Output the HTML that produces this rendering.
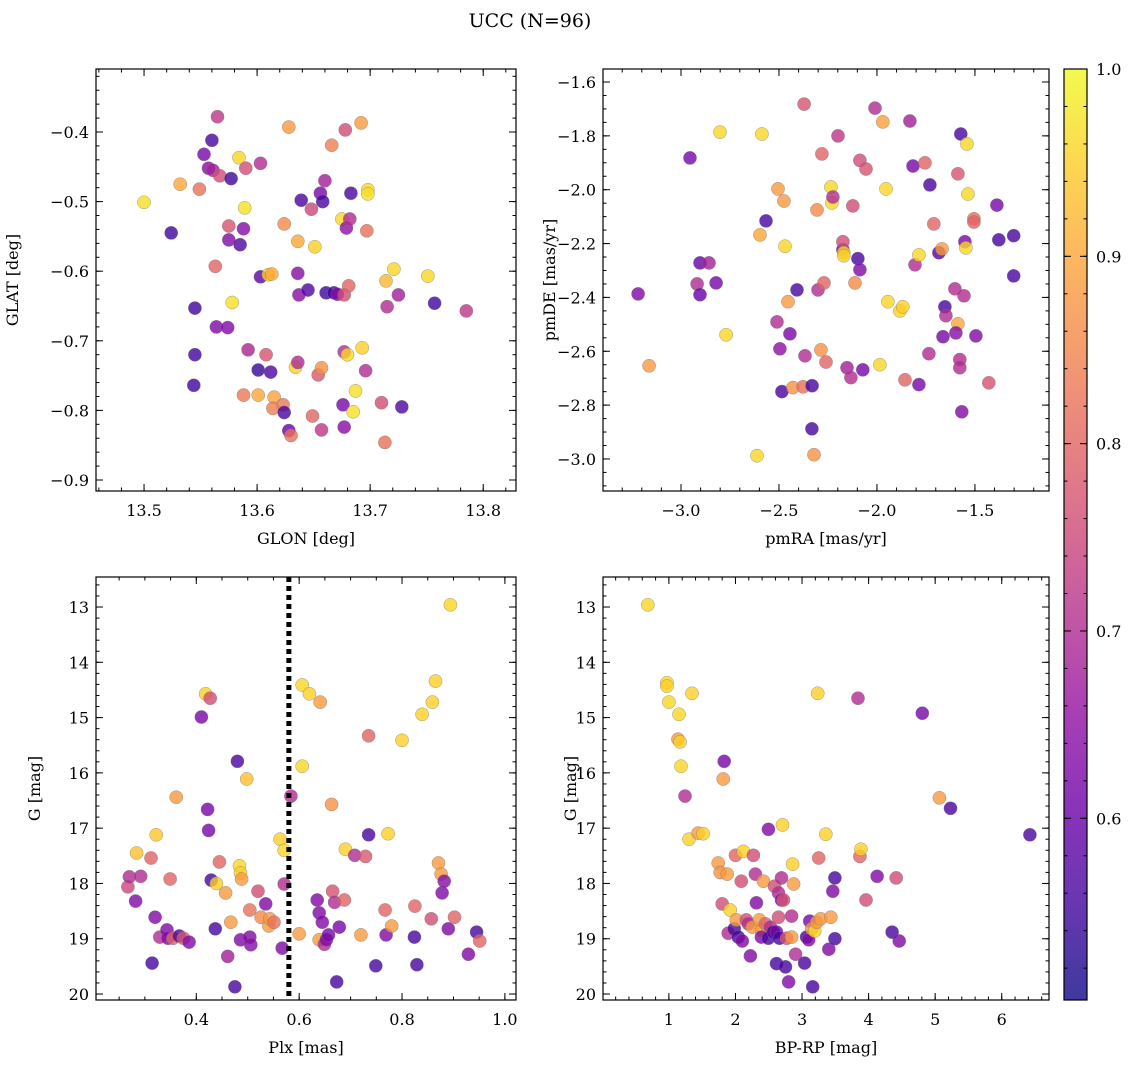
<!DOCTYPE html>
<html><head><meta charset="utf-8">
<style>
html,body{margin:0;padding:0;background:#fff;}
svg{display:block;font-family:"DejaVu Serif","Liberation Serif",serif;}
</style></head>
<body>
<svg id="fig" width="1136" height="1068" viewBox="0 0 1136 1068" xmlns="http://www.w3.org/2000/svg">
<text x="530" y="27" font-size="19" text-anchor="middle">UCC (N=96)</text>
</svg>
<script>
// ---- Panel 1: GLON vs GLAT ----
const p1_glon=[13.500,13.524,13.532,13.549,13.545,13.544,13.545,13.553,13.557,13.560,13.561,13.565,13.567,13.577,13.563,13.564,13.574,13.575,13.575,13.578,13.584,13.585,13.588,13.589,13.590,13.592,13.588,13.601,13.603,13.603,13.608,13.601,13.612,13.610,13.613,13.615,13.614,13.623,13.624,13.628,13.630,13.624,13.628,13.634,13.636,13.636,13.636,13.637,13.639,13.645,13.648,13.649,13.651,13.654,13.657,13.656,13.658,13.660,13.657,13.661,13.668,13.666,13.671,13.675,13.679,13.677,13.677,13.681,13.680,13.682,13.683,13.678,13.676,13.677,13.685,13.687,13.692,13.693,13.696,13.697,13.698,13.698,13.710,13.713,13.714,13.715,13.721,13.725,13.728,13.751,13.757,13.785];
const p1_glat=[-0.501,-0.545,-0.475,-0.482,-0.720,-0.764,-0.653,-0.432,-0.452,-0.412,-0.455,-0.378,-0.463,-0.467,-0.593,-0.680,-0.681,-0.555,-0.535,-0.645,-0.437,-0.562,-0.539,-0.509,-0.452,-0.713,-0.778,-0.778,-0.445,-0.608,-0.720,-0.742,-0.745,-0.605,-0.604,-0.781,-0.797,-0.792,-0.803,-0.829,-0.836,-0.532,-0.393,-0.738,-0.731,-0.603,-0.557,-0.634,-0.498,-0.627,-0.511,-0.808,-0.565,-0.749,-0.739,-0.488,-0.500,-0.470,-0.828,-0.631,-0.631,-0.419,-0.633,-0.525,-0.538,-0.634,-0.716,-0.621,-0.720,-0.525,-0.488,-0.397,-0.792,-0.824,-0.802,-0.772,-0.387,-0.710,-0.743,-0.542,-0.483,-0.489,-0.789,-0.846,-0.614,-0.651,-0.597,-0.634,-0.795,-0.607,-0.646,-0.657];
const p1_prob=[0.97,0.55,0.9,0.82,0.55,0.55,0.55,0.62,0.64,0.56,0.68,0.72,0.76,0.55,0.8,0.63,0.63,0.63,0.77,0.97,0.96,0.57,0.64,0.97,0.76,0.69,0.83,0.9,0.7,0.58,0.77,0.54,0.57,0.95,0.9,0.89,0.84,0.83,0.56,0.6,0.82,0.86,0.88,0.95,0.7,0.64,0.9,0.64,0.56,0.57,0.75,0.8,0.95,0.78,0.87,0.62,0.56,0.68,0.72,0.55,0.55,0.84,0.63,0.96,0.65,0.76,0.7,0.8,0.96,0.7,0.56,0.76,0.62,0.64,0.97,0.97,0.88,0.95,0.7,0.82,0.96,0.97,0.76,0.82,0.92,0.7,0.96,0.68,0.57,0.96,0.55,0.72];
// ---- Panel 2: pmRA vs pmDE ----
const p2_pmra=[-3.219,-3.163,-2.954,-2.918,-2.903,-2.903,-2.821,-2.857,-2.801,-2.770,-2.587,-2.612,-2.597,-2.566,-2.505,-2.510,-2.495,-2.475,-2.469,-2.485,-2.444,-2.454,-2.429,-2.408,-2.372,-2.367,-2.377,-2.332,-2.331,-2.321,-2.306,-2.301,-2.286,-2.281,-2.270,-2.260,-2.235,-2.230,-2.225,-2.199,-2.174,-2.174,-2.169,-2.169,-2.153,-2.133,-2.123,-2.112,-2.097,-2.087,-2.087,-2.056,-2.072,-2.010,-1.985,-1.970,-1.954,-1.944,-1.883,-1.868,-1.857,-1.832,-1.816,-1.806,-1.786,-1.786,-1.755,-1.735,-1.730,-1.710,-1.684,-1.668,-1.663,-1.653,-1.648,-1.587,-1.602,-1.597,-1.587,-1.577,-1.577,-1.572,-1.567,-1.556,-1.551,-1.546,-1.541,-1.536,-1.505,-1.505,-1.495,-1.429,-1.388,-1.378,-1.302,-1.302];
const p2_pmde=[-2.387,-2.654,-1.882,-2.350,-2.272,-2.390,-2.346,-2.272,-1.786,-2.539,-1.793,-2.988,-2.168,-2.116,-1.997,-2.491,-2.591,-2.042,-2.210,-2.750,-2.535,-2.416,-2.735,-2.372,-1.682,-2.617,-2.732,-2.888,-2.728,-2.984,-2.075,-2.372,-2.595,-1.867,-2.346,-2.640,-1.990,-2.049,-2.027,-1.800,-2.223,-2.193,-2.234,-2.245,-2.661,-2.698,-2.060,-2.346,-2.256,-2.297,-1.891,-1.923,-2.669,-1.697,-2.650,-1.748,-1.997,-2.416,-2.450,-2.435,-2.706,-1.745,-1.912,-2.279,-2.242,-2.724,-1.900,-2.609,-1.982,-2.127,-2.234,-2.220,-2.546,-2.435,-2.468,-2.498,-2.368,-2.532,-1.941,-2.661,-2.631,-1.793,-2.825,-2.394,-2.193,-2.216,-1.830,-2.016,-2.108,-2.120,-2.543,-2.717,-2.057,-2.186,-2.171,-2.320];
const p2_prob=[0.63,0.88,0.62,0.7,0.6,0.6,0.62,0.68,0.96,0.96,0.96,0.96,0.9,0.56,0.88,0.7,0.65,0.88,0.96,0.56,0.62,0.88,0.87,0.56,0.77,0.7,0.82,0.56,0.56,0.87,0.86,0.7,0.87,0.8,0.8,0.8,0.96,0.96,0.7,0.72,0.62,0.76,0.96,0.95,0.68,0.7,0.76,0.86,0.56,0.63,0.76,0.77,0.62,0.7,0.96,0.89,0.96,0.96,0.95,0.95,0.8,0.68,0.62,0.7,0.96,0.62,0.8,0.7,0.56,0.8,0.57,0.88,0.62,0.56,0.7,0.9,0.7,0.64,0.77,0.7,0.7,0.56,0.63,0.7,0.62,0.96,0.96,0.96,0.82,0.8,0.63,0.77,0.62,0.56,0.56,0.56];
// ---- Panel 3: Plx vs G ----
const p3_plx=[0.267,0.270,0.282,0.284,0.292,0.312,0.314,0.320,0.322,0.329,0.343,0.345,0.349,0.355,0.361,0.367,0.375,0.386,0.410,0.418,0.427,0.422,0.424,0.429,0.437,0.439,0.445,0.457,0.461,0.467,0.475,0.480,0.484,0.486,0.488,0.486,0.498,0.504,0.504,0.506,0.520,0.526,0.535,0.541,0.543,0.551,0.563,0.567,0.571,0.571,0.584,0.600,0.606,0.606,0.620,0.635,0.639,0.641,0.639,0.645,0.649,0.653,0.657,0.663,0.665,0.669,0.673,0.678,0.688,0.690,0.708,0.720,0.729,0.735,0.735,0.749,0.767,0.769,0.773,0.780,0.800,0.824,0.825,0.829,0.839,0.857,0.859,0.865,0.871,0.876,0.878,0.882,0.890,0.894,0.902,0.929,0.945,0.951];
const p3_g=[18.06,17.88,18.32,17.45,17.87,17.54,19.44,18.61,17.12,18.97,18.84,18.99,17.92,18.99,16.44,18.95,18.99,19.06,14.99,14.57,14.65,16.66,17.04,17.94,18.82,18.00,17.61,18.17,19.32,18.70,19.87,15.79,17.68,17.81,17.92,19.02,16.11,18.97,18.48,19.11,18.14,18.61,18.37,18.77,18.64,18.70,17.20,19.17,18.01,17.40,16.42,18.91,14.41,15.88,14.57,18.30,18.53,14.72,19.02,18.70,19.10,19.02,18.93,16.57,18.14,18.34,19.78,18.79,18.30,17.38,17.49,18.93,17.51,15.33,17.12,19.49,18.48,18.93,17.10,18.77,15.41,18.97,18.41,19.47,14.94,18.64,14.72,14.34,17.63,17.83,18.17,17.96,18.82,12.96,18.61,19.28,18.88,19.04];
const p3_prob=[0.75,0.7,0.63,0.93,0.7,0.8,0.56,0.63,0.94,0.7,0.63,0.63,0.8,0.8,0.88,0.56,0.78,0.63,0.62,0.95,0.76,0.62,0.62,0.56,0.56,0.95,0.8,0.88,0.68,0.88,0.56,0.56,0.96,0.95,0.88,0.63,0.93,0.63,0.82,0.64,0.76,0.86,0.63,0.88,0.88,0.82,0.95,0.63,0.7,0.96,0.7,0.88,0.96,0.96,0.95,0.63,0.63,0.88,0.88,0.63,0.7,0.64,0.62,0.87,0.77,0.7,0.56,0.62,0.8,0.95,0.7,0.88,0.78,0.8,0.56,0.56,0.8,0.63,0.95,0.88,0.95,0.56,0.8,0.56,0.95,0.76,0.95,0.95,0.88,0.88,0.63,0.64,0.63,0.96,0.8,0.63,0.56,0.8];
const plxCut=0.58;
// ---- Panel 4: BP-RP vs G ----
const p4_bprp=[0.683,0.970,1.0,0.97,1.136,1.151,1.166,1.181,1.242,1.302,1.347,1.438,1.514,1.740,1.770,1.831,1.816,1.800,1.876,1.891,1.921,1.982,2.0,2.012,2.042,2.088,2.103,2.118,2.163,2.193,2.224,2.254,2.269,2.299,2.314,2.360,2.390,2.390,2.420,2.450,2.495,2.495,2.526,2.571,2.586,2.616,2.616,2.647,2.647,2.662,2.692,2.692,2.707,2.722,2.752,2.768,2.798,2.843,2.843,2.858,2.873,2.903,3.039,3.069,3.100,3.115,3.145,3.160,3.190,3.221,3.236,3.251,3.281,3.357,3.402,3.432,3.462,3.493,3.493,3.840,3.870,3.885,3.961,4.127,4.414,4.353,4.459,4.807,5.063,5.230,6.423];
const p4_g=[12.96,14.37,14.72,14.43,15.39,14.94,15.44,15.88,16.42,17.20,14.56,17.09,17.10,17.63,17.80,15.79,16.11,18.37,17.83,18.90,18.48,18.82,17.49,18.66,18.97,17.96,19.04,17.42,18.66,18.73,19.31,18.79,17.49,17.83,18.35,18.66,18.84,18.97,17.96,18.73,17.02,18.99,18.79,18.88,18.05,19.45,18.88,18.17,18.61,18.99,18.30,17.90,16.94,18.30,19.51,18.99,19.78,18.97,18.59,17.65,18.01,19.28,19.44,18.97,19.02,18.68,18.82,19.87,18.86,18.70,14.56,17.54,18.64,17.11,19.19,18.61,18.14,17.90,19.00,14.65,17.51,17.38,18.30,17.87,17.90,18.88,19.04,14.92,16.45,16.64,17.12];
const p4_prob=[0.96,0.96,0.96,0.95,0.88,0.96,0.95,0.96,0.7,0.95,0.95,0.88,0.95,0.88,0.87,0.62,0.88,0.76,0.88,0.7,0.95,0.56,0.8,0.88,0.56,0.76,0.63,0.95,0.76,0.7,0.63,0.88,0.76,0.7,0.63,0.88,0.88,0.63,0.88,0.8,0.63,0.56,0.7,0.56,0.76,0.56,0.62,0.7,0.76,0.56,0.63,0.7,0.95,0.77,0.56,0.77,0.63,0.88,0.7,0.95,0.88,0.7,0.56,0.56,0.63,0.62,0.88,0.56,0.95,0.88,0.95,0.8,0.88,0.95,0.63,0.88,0.63,0.56,0.56,0.7,0.8,0.95,0.76,0.63,0.76,0.56,0.63,0.62,0.88,0.56,0.56];
const cbTicks=[0.6,0.7,0.8,0.9,1.0];

const NS="http://www.w3.org/2000/svg";
const svg=document.getElementById('fig');
const vmin=0.503,vmax=1.0;
const stops=[[13,8,135],[65,4,157],[106,0,168],[143,13,164],[177,42,144],[204,71,120],[225,100,98],[242,132,75],[252,166,54],[252,206,37],[240,249,33]];
function plasma(t){t=Math.max(0,Math.min(1,t));const f=t*10,i=Math.min(9,Math.floor(f)),u=f-i;const a=stops[i],b=stops[i+1];return 'rgb('+a.map((v,k)=>Math.round(v+(b[k]-v)*u)).join(',')+')';}
function el(tag,attrs,parent){const e=document.createElementNS(NS,tag);for(const k in attrs)e.setAttribute(k,attrs[k]);(parent||svg).appendChild(e);return e;}
function fmt(v,d){const s=Math.abs(v).toFixed(d);return (v<-1e-9?'\u2212':'')+s;}
function ticks(a,b,step){const lo=Math.min(a,b),hi=Math.max(a,b);const out=[];for(let v=Math.ceil(lo/step-1e-6)*step;v<=hi+1e-9;v+=step)out.push(Math.round(v/step)*step);return out;}

const panels=[
 {name:'glon-glat',box:[96,69,516,491],xr:[13.4575,13.829],yr:[-0.3095,-0.9158],xs:0.1,xn:5,ys:0.1,yn:5,xd:1,yd:1,xl:'GLON [deg]',yl:'GLAT [deg]',ylx:18,x:p1_glon,y:p1_glat,c:p1_prob},
 {name:'pmra-pmde',box:[603,69,1049,491],xr:[-3.398,-1.122],yr:[-1.5517,-3.119],xs:0.5,xn:5,ys:0.2,yn:4,xd:1,yd:1,xl:'pmRA [mas/yr]',yl:'pmDE [mas/yr]',ylx:555,x:p2_pmra,y:p2_pmde,c:p2_prob},
 {name:'plx-g',box:[96,577,516,1000],xr:[0.205,1.0216],yr:[12.457,20.108],xs:0.2,xn:4,ys:1,yn:5,xd:1,yd:0,xl:'Plx [mas]',yl:'G [mag]',ylx:40,x:p3_plx,y:p3_g,c:p3_prob,vline:plxCut},
 {name:'bprp-g',box:[603,577,1049,1000],xr:[0.01,6.71],yr:[12.457,20.108],xs:1,xn:5,ys:1,yn:5,xd:0,yd:0,xl:'BP-RP [mag]',yl:'G [mag]',ylx:576,x:p4_bprp,y:p4_g,c:p4_prob}
];

panels.forEach(p=>{
 const [x0,y0,x1,y1]=p.box;
 const sx=v=>x0+(v-p.xr[0])/(p.xr[1]-p.xr[0])*(x1-x0);
 const sy=v=>y0+(v-p.yr[0])/(p.yr[1]-p.yr[0])*(y1-y0);
 const g=el('g',{});
 
 
 const clipId='clip-'+p.name;
 const cp=el('clipPath',{id:clipId},g);el('rect',{x:x0,y:y0,width:x1-x0,height:y1-y0},cp);
 const pts=el('g',{'clip-path':'url(#'+clipId+')'},g);
 
 
 for(let i=0;i<p.x.length;i++){
  const c=el('circle',{cx:sx(p.x[i]).toFixed(1),cy:sy(p.y[i]).toFixed(1),r:6.6,fill:plasma((p.c[i]-vmin)/(vmax-vmin)),'fill-opacity':0.8,stroke:'#777','stroke-width':0.5,'stroke-opacity':0.7},pts);
  
  
 }
 if(p.vline!==undefined){
  const l=el('line',{x1:sx(p.vline),x2:sx(p.vline),y1:y0,y2:y1,stroke:'#000','stroke-width':5,'stroke-dasharray':'5,4'},g);
  
  
 }
 el('rect',{x:x0,y:y0,width:x1-x0,height:y1-y0,fill:'none',stroke:'#000','stroke-width':1.2},g);
 ticks(p.xr[0],p.xr[1],p.xs/p.xn).forEach(v=>{const X=sx(v);el('line',{x1:X,x2:X,y1:y1,y2:y1-3.5,stroke:'#000'},g);el('line',{x1:X,x2:X,y1:y0,y2:y0+3.5,stroke:'#000'},g);});
 ticks(p.xr[0],p.xr[1],p.xs).forEach(v=>{const X=sx(v);el('line',{x1:X,x2:X,y1:y1,y2:y1-7,stroke:'#000'},g);el('line',{x1:X,x2:X,y1:y0,y2:y0+7,stroke:'#000'},g);
  const t=el('text',{x:X,y:y1+25,'font-size':16,'text-anchor':'middle'},g);t.textContent=fmt(v,p.xd);
  
  });
 ticks(p.yr[0],p.yr[1],p.ys/p.yn).forEach(v=>{const Y=sy(v);el('line',{x1:x0,x2:x0+3.5,y1:Y,y2:Y,stroke:'#000'},g);el('line',{x1:x1,x2:x1-3.5,y1:Y,y2:Y,stroke:'#000'},g);});
 ticks(p.yr[0],p.yr[1],p.ys).forEach(v=>{const Y=sy(v);el('line',{x1:x0,x2:x0+7,y1:Y,y2:Y,stroke:'#000'},g);el('line',{x1:x1,x2:x1-7,y1:Y,y2:Y,stroke:'#000'},g);
  const t=el('text',{x:x0-7,y:Y+6,'font-size':16,'text-anchor':'end'},g);t.textContent=fmt(v,p.yd);
  
  });
 const xl=el('text',{x:(x0+x1)/2,y:y1+53,'font-size':16,'text-anchor':'middle'},g);xl.textContent=p.xl;
 
 
 const cy=(y0+y1)/2;
 const yl=el('text',{x:p.ylx,y:cy,'font-size':16,'text-anchor':'middle',transform:'rotate(-90 '+p.ylx+' '+cy+')'},g);yl.textContent=p.yl;
 
 
});

const cb={x0:1064,y0:69,x1:1087,y1:1000};
const cg=el('g',{});


const defs=el('defs',{},cg);
const lg=el('linearGradient',{id:'cbg',x1:0,y1:1,x2:0,y2:0},defs);
for(let k=0;k<=10;k++)el('stop',{offset:k/10,'stop-color':plasma(k/10)},lg);
el('rect',{x:cb.x0,y:cb.y0,width:cb.x1-cb.x0,height:cb.y1-cb.y0,fill:'url(#cbg)','fill-opacity':0.8},cg);
el('rect',{x:cb.x0,y:cb.y0,width:cb.x1-cb.x0,height:cb.y1-cb.y0,fill:'none',stroke:'#000','stroke-width':1.2},cg);
const cy_=v=>cb.y1-(v-vmin)/(vmax-vmin)*(cb.y1-cb.y0);
ticks(vmin,vmax,0.02).forEach(v=>{const Y=cy_(v);el('line',{x1:cb.x1,x2:cb.x1-3.5,y1:Y,y2:Y,stroke:'#000'},cg);el('line',{x1:cb.x0,x2:cb.x0+3.5,y1:Y,y2:Y,stroke:'#000'},cg);});
cbTicks.forEach(v=>{const Y=cy_(v);el('line',{x1:cb.x1,x2:cb.x1-7,y1:Y,y2:Y,stroke:'#000'},cg);el('line',{x1:cb.x0,x2:cb.x0+7,y1:Y,y2:Y,stroke:'#000'},cg);
 const t=el('text',{x:cb.x1+9,y:Y+6,'font-size':16},cg);t.textContent=v.toFixed(1);
 
 });
</script>
</body></html>
